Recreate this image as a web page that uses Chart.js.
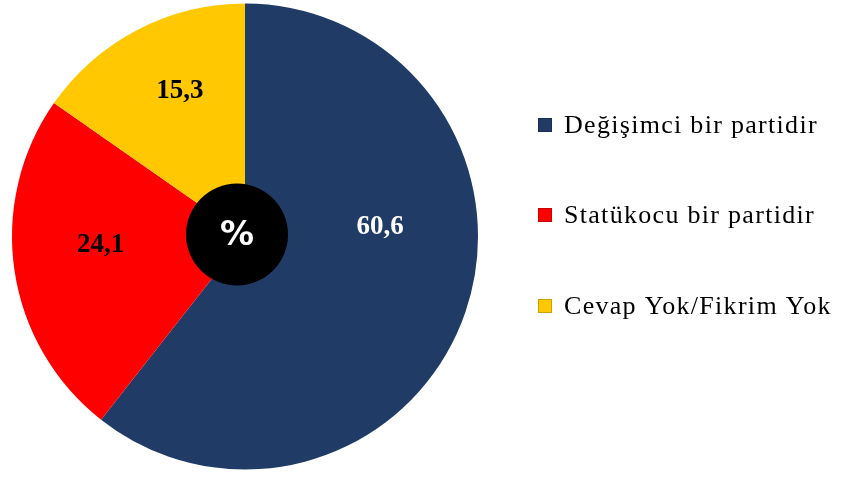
<!DOCTYPE html>
<html lang="tr">
<head>
  <meta charset="UTF-8">
  <title>Parti algısı</title>
  <script src="https://cdn.jsdelivr.net/npm/chart.js"></script>
  <style>
    html, body { margin: 0; padding: 0; background: #fff; }
    #chartContainer { width: 842px; height: 477px; }
  </style>
</head>
<body>
  <div id="chartContainer">
    <canvas id="myChart"></canvas>
  </div>
  <script>
    // Data
    const labels = ['Değişimci bir partidir', 'Statükocu bir partidir', 'Cevap Yok/Fikrim Yok'];
    const values = [60.6, 24.1, 15.3];
    const colors = ['#1f3b66', '#ff0000', '#ffc800'];
    const labelColors = ['#ffffff', '#000000', '#000000'];

    // value labels inside the slices (offsets from centre, as a share of the radius)
    const sliceLabels = {
      id: 'sliceLabels',
      afterDatasetsDraw(chart) {
        const ctx = chart.ctx;
        const arcs = chart.getDatasetMeta(0).data;
        const offs = [[0.58, -0.04], [-0.62, 0.035], [-0.28, -0.625]];
        ctx.save();
        ctx.font = 'bold 27px "Liberation Serif", serif';
        ctx.textAlign = 'center';
        ctx.textBaseline = 'middle';
        arcs.forEach((arc, i) => {
          const p = arc.getProps(['x', 'y', 'outerRadius']);
          ctx.fillStyle = labelColors[i];
          ctx.fillText(values[i].toFixed(1).replace('.', ','),
            p.x + offs[i][0] * p.outerRadius, p.y + offs[i][1] * p.outerRadius);
        });
        // black "%" badge in the middle
        const c = arcs[0];
        const cx = c.x - 8, cy = c.y - 2;
        ctx.beginPath();
        ctx.arc(cx, cy, 51, 0, Math.PI * 2);
        ctx.fillStyle = '#000';
        ctx.fill();
        ctx.fillStyle = '#fff';
        ctx.font = 'bold 34px "DejaVu Sans", sans-serif';
        ctx.fillText('%', cx, cy + 2);
        ctx.restore();
      }
    };

    // legend on the right
    const sideLegend = {
      id: 'sideLegend',
      afterDraw(chart) {
        const ctx = chart.ctx;
        const rows = [125, 215, 306];
        ctx.save();
        ctx.font = '26px "Liberation Serif", serif';
        ctx.letterSpacing = '1.3px';
        ctx.textBaseline = 'middle';
        labels.forEach((l, i) => {
          ctx.fillStyle = colors[i];
          ctx.fillRect(538, rows[i] - 7, 14, 14);
          ctx.strokeStyle = 'rgba(0,0,0,0.2)';
          ctx.lineWidth = 1;
          ctx.strokeRect(538.5, rows[i] - 6.5, 13, 13);
          ctx.fillStyle = '#000';
          ctx.fillText(l, 564, rows[i] + 1);
        });
        ctx.restore();
      }
    };

    const ctx = document.getElementById('myChart').getContext('2d');
    new Chart(ctx, {
      type: 'pie',
      data: {
        labels: labels,
        datasets: [{
          data: values,
          backgroundColor: colors,
          borderWidth: 0
        }]
      },
      options: {
        responsive: true,
        maintainAspectRatio: false,
        animation: false,
        layout: { padding: { left: 12, right: 364, top: 3, bottom: 7 } },
        plugins: {
          legend: { display: false },
          tooltip: { enabled: false }
        }
      },
      plugins: [sliceLabels, sideLegend]
    });
  </script>
</body>
</html>
